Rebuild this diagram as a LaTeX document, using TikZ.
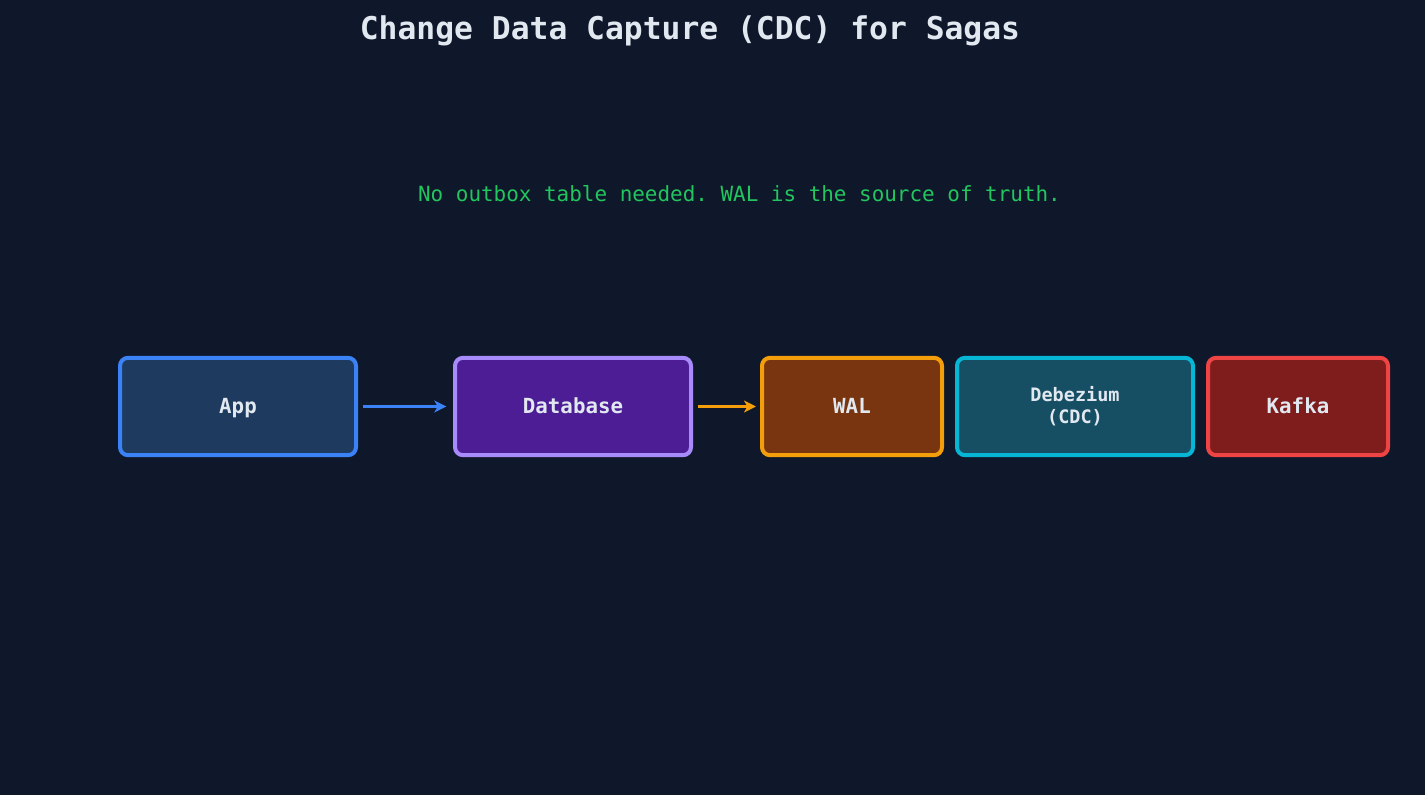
\documentclass[tikz,border=0pt]{standalone}
\usepackage{fontspec}
\setmonofont{DejaVu Sans Mono}
\usetikzlibrary{arrows.meta}
\pgfdeclarelayer{background}
\pgfsetlayers{background,main}

\definecolor{bgdark}{HTML}{0F172A}
\definecolor{txtlight}{HTML}{E2E8F0}
\definecolor{notegreen}{HTML}{22C55E}
\definecolor{appfill}{HTML}{1E3A5F}
\definecolor{appline}{HTML}{3B82F6}
\definecolor{dbfill}{HTML}{4C1D95}
\definecolor{dbline}{HTML}{A78BFA}
\definecolor{walfill}{HTML}{78350F}
\definecolor{walline}{HTML}{F59E0B}
\definecolor{cdcfill}{HTML}{164E63}
\definecolor{cdcline}{HTML}{06B6D4}
\definecolor{kafill}{HTML}{7F1D1D}
\definecolor{kaline}{HTML}{EF4444}

\tikzset{
  box/.style={draw, line width=3pt, rounded corners=6pt, minimum height=73pt,
    text=txtlight, font=\ttfamily\bfseries\fontsize{15.6}{18}\selectfont, align=center},
  oneline/.style={text height=11pt, text depth=0pt},
  wide/.style={minimum width=177pt},
  narrow/.style={minimum width=135pt},
  flow/.style={-{Stealth[length=9pt,width=9pt,inset=2.5pt]}, line width=2.8pt}
}

\begin{document}
\begin{tikzpicture}[x=0.75pt,y=-0.75pt]

% Hintergrund
\fill[bgdark] (0,0) rectangle (1425,795);
\useasboundingbox (0,0) rectangle (1425,795);

% Titel und Hinweis
\node[text=txtlight, font=\ttfamily\bfseries\fontsize{23.5}{28}\selectfont] (title) at (690,31) {Change Data Capture (CDC) for Sagas};
\node[text=notegreen, font=\ttfamily\fontsize{15.7}{19}\selectfont] (note) at (739.5,194) {No outbox table needed. WAL is the source of truth.};

% Kaesten von links nach rechts
\node[box, oneline, wide, fill=appfill, draw=appline] (app) at (238,406.5) {App};
\node[box, oneline, wide, fill=dbfill, draw=dbline] (db) at (573,406.5) {Database};
\node[box, oneline, narrow, fill=walfill, draw=walline] (wal) at (852,406.5) {WAL};
\node[box, wide, fill=cdcfill, draw=cdcline, font=\ttfamily\bfseries\fontsize{13.9}{16.5}\selectfont] (cdc) at (1075,406.5) {Debezium\\(CDC)};
\node[box, oneline, narrow, fill=kafill, draw=kaline] (kafka) at (1298,406.5) {Kafka};

% Pfeile
\draw[flow, appline, shorten <=4pt, shorten >=5pt] (app.east) -- (db.west);
\draw[flow, walline, shorten <=4pt, shorten >=3pt] (db.east) -- (wal.west);

% kurze Pfeile, groesstenteils hinter den Kaesten
\begin{pgfonlayer}{background}
\draw[flow, walline] (wal.center) -- ([xshift=3pt]wal.east);
\draw[flow, cdcline] (cdc.center) -- ([xshift=-2pt]kafka.west);
\end{pgfonlayer}

\end{tikzpicture}
\end{document}
